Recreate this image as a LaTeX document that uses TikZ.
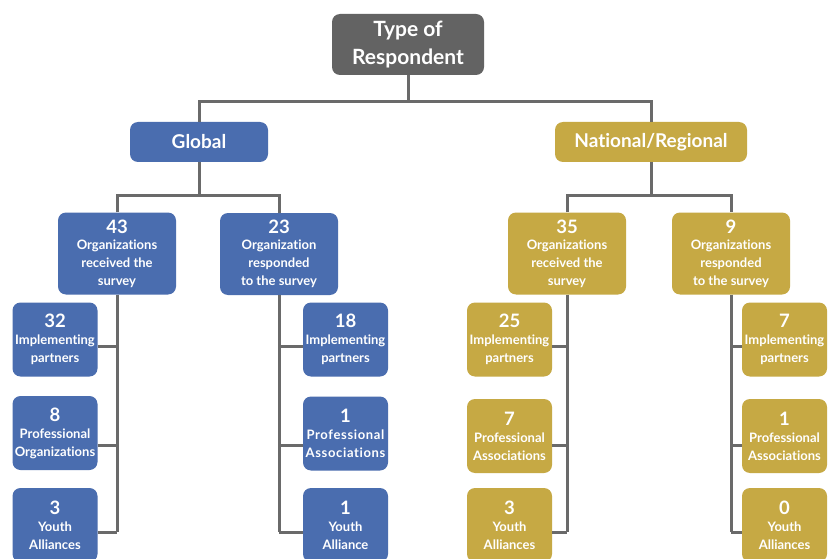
\documentclass[tikz,border=0pt]{standalone}
\usepackage{fontspec}
\setmainfont{Lato}[Ligatures={NoCommon}]
\definecolor{gblue}{HTML}{4A6DAF}
\definecolor{ggold}{HTML}{C6A944}
\definecolor{groot}{HTML}{636363}
\definecolor{gline}{HTML}{6A6A6A}
\newcommand{\numf}{\fontsize{18.5}{18}\selectfont}
\begin{document}
\begin{tikzpicture}[x=1pt,y=-1pt,
  box/.style={draw=none, fill=#1, rounded corners=8pt, text=white, align=center, inner sep=0pt},
  rootbox/.style={box=groot, minimum width=152pt, minimum height=61pt, font=\bfseries\fontsize{21}{28}\selectfont},
  lonebox/.style={box=#1, minimum height=40pt, font=\bfseries\fontsize{19}{22}\selectfont},
  ltwobox/.style={box=#1, minimum width=118pt, minimum height=82pt, font=\bfseries\fontsize{13}{18}\selectfont},
  lthreebox/.style={box=#1, minimum width=85pt, minimum height=74pt, font=\bfseries\fontsize{13}{18}\selectfont},
  conn/.style={draw=gline, line width=3pt}
]
\useasboundingbox (0,0) rectangle (833,559);
\fill[white] (0,0) rectangle (833,559);
\begin{scope}
\clip (0,0) rectangle (833,559);
\coordinate (ja) at (408,102);
\coordinate (jg) at (199,195);
\coordinate (jn) at (651,195);
\coordinate (r1) at (0,346);
\coordinate (r2) at (0,445);
\coordinate (r3) at (0,532);

\node[rootbox] (root) at (408,44.5) {Type of\\Respondent};
\node[lonebox=gblue, minimum width=138pt] (glob) at (199,142) {Global};
\node[lonebox=ggold, minimum width=192pt] (nat) at (651,142) {National/Regional};

\node[ltwobox=gblue] (g1) at (117,253.5) {{\numf 43}\\[-2pt]Organizations\\received the\\survey};
\node[ltwobox=gblue] (g2) at (279,254) {{\numf 23}\\[-2pt]Organization\\responded\\to the survey};
\node[ltwobox=ggold] (n1) at (567,253.5) {{\numf 35}\\[-2pt]Organizations\\received the\\survey};
\node[ltwobox=ggold] (n2) at (731,253.5) {{\numf 9}\\[-2pt]Organizations\\responded\\to the survey};

\node[lthreebox=gblue] (g1a) at (55,339.5) {{\numf 32}\\[-1pt]Implementing\\partners};
\node[lthreebox=gblue] (g1b) at (55,433) {{\numf 8}\\[-1pt]Professional\\Organizations};
\node[lthreebox=gblue] (g1c) at (55,525) {{\numf 3}\\[-1pt]Youth\\Alliances};

\node[lthreebox=gblue] (g2a) at (345.5,339.5) {{\numf 18}\\[-1pt]Implementing\\partners};
\node[lthreebox=gblue] (g2b) at (345.5,433.5) {{\numf 1}\\[-1pt]{\addfontfeature{LetterSpace=5}Professional}\\{\addfontfeature{LetterSpace=5}Associations}};
\node[lthreebox=gblue] (g2c) at (345.5,525) {{\numf 1}\\[-1pt]Youth\\Alliance};

\node[lthreebox=ggold] (n1a) at (509.5,339.5) {{\numf 25}\\[-1pt]Implementing\\partners};
\node[lthreebox=ggold] (n1b) at (509.5,436) {{\numf 7}\\[-1pt]Professional\\Associations};
\node[lthreebox=ggold] (n1c) at (509.5,525) {{\numf 3}\\[-1pt]Youth\\Alliances};

\node[lthreebox=ggold] (n2a) at (784.5,339.5) {{\numf 7}\\[-1pt]Implementing\\partners};
\node[lthreebox=ggold] (n2b) at (784.5,436) {{\numf 1}\\[-1pt]Professional\\Associations};
\node[lthreebox=ggold] (n2c) at (784.5,525) {{\numf 0}\\[-1pt]Youth\\Alliances};

% connectors
\draw[conn] (root.south) -- (ja);
\draw[conn] (glob.north) |- (ja) -| (nat.north);
\draw[conn] (glob.south) -- (jg);
\draw[conn] (g1.north) |- (jg) -| (g2.north);
\draw[conn] (nat.south) -- (jn);
\draw[conn] (n1.north) |- (jn) -| (n2.north);

\foreach \p in {g1, g2, n1, n2}{
  \draw[conn] (\p.south) -- (\p.south |- r3);
}
\draw[conn] (g1a.east |- r1) -- (g1.south |- r1);
\draw[conn] (g1b.east |- r2) -- (g1.south |- r2);
\draw[conn] (g1c.east |- r3) -- (g1.south |- r3);
\draw[conn] (g2a.west |- r1) -- (g2.south |- r1);
\draw[conn] (g2b.west |- r2) -- (g2.south |- r2);
\draw[conn] (g2c.west |- r3) -- (g2.south |- r3);
\draw[conn] (n1a.east |- r1) -- (n1.south |- r1);
\draw[conn] (n1b.east |- r2) -- (n1.south |- r2);
\draw[conn] (n1c.east |- r3) -- (n1.south |- r3);
\draw[conn] (n2a.west |- r1) -- (n2.south |- r1);
\draw[conn] (n2b.west |- r2) -- (n2.south |- r2);
\draw[conn] (n2c.west |- r3) -- (n2.south |- r3);
\end{scope}
\end{tikzpicture}
\end{document}
